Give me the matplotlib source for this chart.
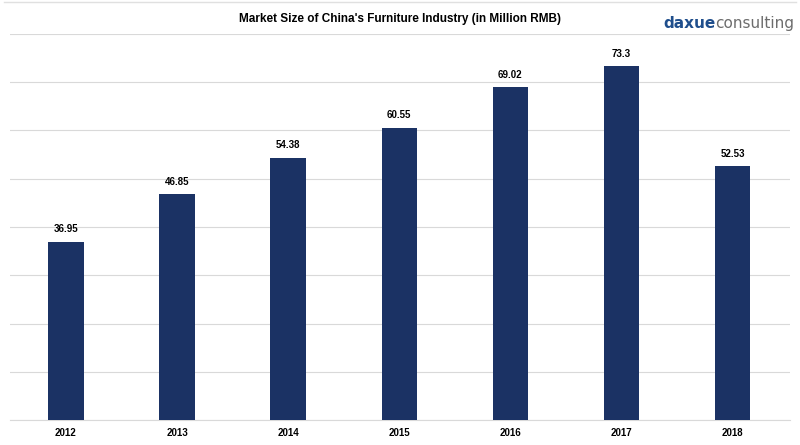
import matplotlib.pyplot as plt

years = ['2012', '2013', '2014', '2015', '2016', '2017', '2018']
market_size = [36.95, 46.85, 54.38, 60.55, 69.02, 73.3, 52.53]

bar_color = '#1b3264'

fig = plt.figure(figsize=(8, 4.45), dpi=100)
ax = fig.add_axes([0.013, 0.056, 0.975, 0.868])

x = range(len(years))
bars = ax.bar(x, market_size, width=0.32, color=bar_color, zorder=3)
for b, v in zip(bars, market_size):
    ax.text(b.get_x() + b.get_width() / 2, v + 1.5, f'{v:g}', ha='center', va='bottom',
            fontsize=7, fontweight='bold', family='Liberation Sans')

ax.set_ylim(0, 80)
ax.set_xlim(-0.5, 6.52)
ax.set_yticks(range(0, 81, 10))
ax.yaxis.grid(True, color='#d9d9d9', linewidth=0.8, zorder=0)
ax.tick_params(axis='y', length=0, labelleft=False)
ax.tick_params(axis='x', length=0, labelsize=7, pad=6)
ax.set_xticks(list(x))
ax.set_xticklabels(years, fontweight='bold', family='Liberation Sans')
for s in ['top', 'right', 'left']:
    ax.spines[s].set_visible(False)
ax.spines['bottom'].set_color('#d9d9d9')

fig.text(0.5, 0.958, "Market Size of China's Furniture Industry (in Million RMB)",
         ha='center', va='center', fontsize=8.5, fontweight='bold', family='Liberation Sans')

# logo: "consulting" anchored at right, "daxue" placed just left of it
t2 = fig.text(0.993, 0.948, 'consulting', ha='right', va='center', fontsize=11,
              color='#6d6d6d', family='DejaVu Sans')
fig.canvas.draw()
x0 = t2.get_window_extent().x0 / fig.bbox.width
fig.text(x0, 0.948, 'daxue', ha='right', va='center', fontsize=11,
         color='#1f4e8c', fontweight='bold', family='DejaVu Sans')

fig.add_artist(plt.Line2D([0.005, 0.995], [0.995, 0.995], color='#e0e0e0', lw=1))

fig.savefig('out.png', dpi=100)
